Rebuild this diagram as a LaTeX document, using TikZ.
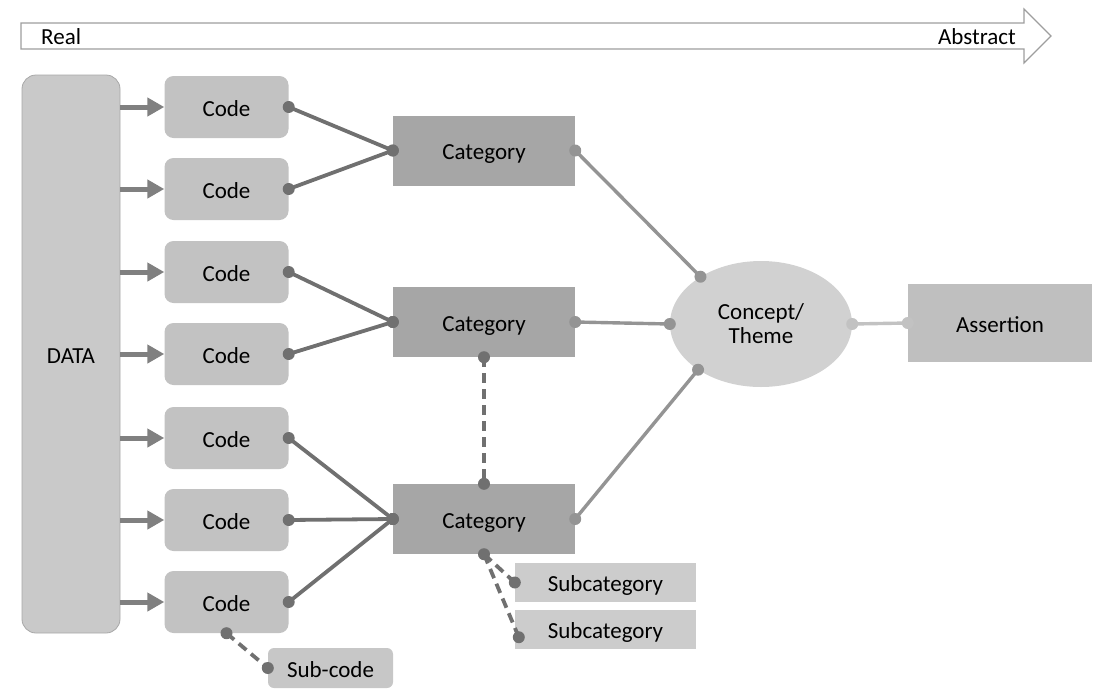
\documentclass[tikz,border=0pt]{standalone}
\usepackage{fontspec}
\setmainfont{Carlito}
\usetikzlibrary{arrows.meta,shapes.geometric,calc}

\definecolor{datafill}{gray}{0.79}
\definecolor{dataline}{gray}{0.66}
\definecolor{codefill}{gray}{0.76}
\definecolor{catfill}{gray}{0.65}
\definecolor{ellfill}{gray}{0.82}
\definecolor{assertfill}{gray}{0.75}
\definecolor{subcatfill}{gray}{0.80}
\definecolor{subcodefill}{gray}{0.78}
\definecolor{darklink}{gray}{0.44}
\definecolor{midlink}{gray}{0.58}
\definecolor{lightlink}{gray}{0.76}
\definecolor{feedgray}{gray}{0.50}
\definecolor{scaleline}{gray}{0.62}

\tikzset{
  txt/.style={font=\fontsize{23}{26}\selectfont},
  oneline/.style={txt, text height=18pt, text depth=0pt},
  databox/.style={oneline, rounded corners=14pt, fill=datafill, draw=dataline, line width=0.8pt,
    minimum width=98pt, minimum height=558pt, inner sep=0pt},
  codebox/.style={oneline, rounded corners=9pt, fill=codefill, minimum width=124pt,
    minimum height=62pt, inner sep=0pt},
  catbox/.style={oneline, fill=catfill, minimum width=182pt, minimum height=70pt, inner sep=0pt},
  themebox/.style={txt, ellipse, fill=ellfill, minimum width=182pt, minimum height=126pt,
    inner sep=0pt, align=center},
  assertbox/.style={oneline, fill=assertfill, minimum width=184pt, minimum height=78pt, inner sep=0pt},
  subcatbox/.style={oneline, fill=subcatfill, minimum width=181pt, minimum height=39pt, inner sep=0pt},
  subcodebox/.style={oneline, rounded corners=6pt, fill=subcodefill, minimum width=125pt,
    minimum height=40pt, inner sep=0pt},
  feed/.style={draw=feedgray, line width=5pt, -{Triangle[length=17pt,width=18pt]}},
  codelink/.style={draw=darklink, line width=3.8pt},
  catlink/.style={draw=midlink, line width=3.4pt},
  themelink/.style={draw=lightlink, line width=3.4pt},
  dashlink/.style={draw=darklink, line width=3.8pt, dash pattern=on 10pt off 6pt},
  darkdot/.style={fill=darklink},
  middot/.style={fill=midlink},
  lightdot/.style={fill=lightlink},
}

\begin{document}
\begin{tikzpicture}[x=1pt,y=-1pt]
\useasboundingbox (0,0) rectangle (1106,689);

% scale arrow along the top
\draw[draw=scaleline, fill=white, line width=1.2pt, line join=miter]
  (21,23) -- (1024,23) -- (1024,9) -- (1051,36) -- (1024,63) -- (1024,49) -- (21,49) -- cycle;
\node[txt, anchor=base west, inner sep=0pt] (real) at (41,44) {Real};
\node[txt, anchor=base east, inner sep=0pt] (abstract) at (1016,44) {Abstract};

% data column
\node[databox] (data) at (71,354) {DATA};

% codes
\node[codebox] (c1) at (226.5,107) {Code};
\node[codebox] (c2) at (226.5,189) {Code};
\node[codebox] (c3) at (226.5,272) {Code};
\node[codebox] (c4) at (226.5,354) {Code};
\node[codebox] (c5) at (226.5,438) {Code};
\node[codebox] (c6) at (226.5,520) {Code};
\node[codebox] (c7) at (226.5,602) {Code};
\node[subcodebox] (sc) at (330.5,668) {Sub-code};

% categories
\node[catbox] (k1) at (484,150.5) {Category};
\node[catbox] (k2) at (484,322) {Category};
\node[catbox] (k3) at (484,519) {Category};
\node[subcatbox] (s1) at (605.5,582.5) {Subcategory};
\node[subcatbox] (s2) at (605.5,629.5) {Subcategory};

% concept and assertion
\node[themebox] (th) at (761,324) {Concept/\\[-2pt]Theme};
\node[assertbox] (as) at (1000,323) {Assertion};

% data feeds into each code
\foreach \c in {c1,c2,c3,c4,c5,c6,c7}
  \draw[feed] (data.east |- \c.west) -- (\c.west);

% codes grouped into categories
\foreach \c/\k in {c1/k1,c2/k1,c3/k2,c4/k2,c5/k3,c6/k3,c7/k3} {
  \draw[codelink] (\c.east) -- (\k.west);
  \fill[darkdot] (\c.east) circle (6pt);
  \fill[darkdot] (\k.west) circle (6pt);
}

% categories into the theme
\draw[catlink] (k1.east) -- (th.142);
\draw[catlink] (k2.east) -- (th.west);
\draw[catlink] (k3.east) -- (th.216);
\foreach \p in {k1.east,k2.east,k3.east,th.142,th.west,th.216}
  \fill[middot] (\p) circle (6pt);

% theme to assertion
\draw[themelink] (th.east) -- (as.west);
\fill[lightdot] (th.east) circle (6pt);
\fill[lightdot] (as.west) circle (6pt);

% dashed relations
\coordinate (s2in) at ($(s2.south west)+(4,-12)$);
\draw[dashlink] (k2.south) -- (k3.north);
\draw[dashlink] (k3.south) -- (s1.west);
\draw[dashlink] (k3.south) -- (s2in);
\draw[dashlink] (c7.south) -- (sc.west);
\foreach \p in {k2.south,k3.north,k3.south,s1.west,s2in,c7.south,sc.west}
  \fill[darkdot] (\p) circle (6pt);
\end{tikzpicture}
\end{document}
